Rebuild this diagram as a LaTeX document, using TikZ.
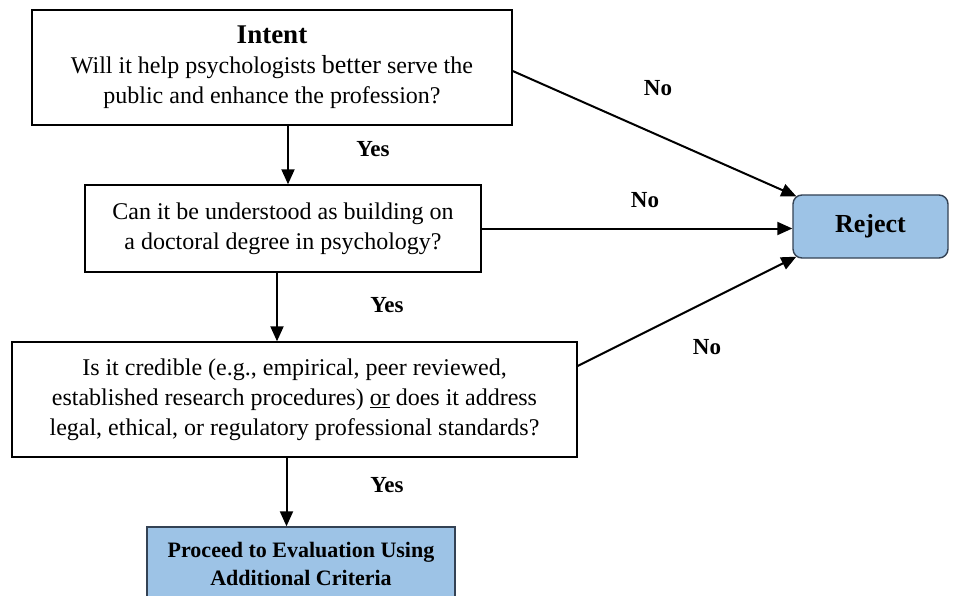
\documentclass[tikz,border=0pt]{standalone}
\usepackage{fontspec}
\setmainfont{Liberation Serif}
\usetikzlibrary{arrows.meta}
\definecolor{boxblue}{RGB}{157,195,230}
\definecolor{boxline}{RGB}{52,66,84}

\begin{document}
\begin{tikzpicture}[x=1pt, y=-1pt]
\tikzstyle{question} = [draw=black, line width=1.4pt, rectangle, align=center, inner sep=0pt, font=\fontsize{24}{30}\selectfont]
\tikzstyle{outcome} = [draw=boxline, fill=boxblue, line width=1.4pt, align=center, inner sep=0pt, font=\bfseries\fontsize{22}{28}\selectfont]
\tikzstyle{edge} = [draw=black, line width=2pt, -{Triangle[length=15pt,width=13pt]}]
\tikzstyle{answer} = [font=\bfseries\fontsize{23}{26}\selectfont]

\clip (0,0) rectangle (955,596);

\node[question, minimum width=480, minimum height=115] (intent) at (272,67.5)
  {{\bfseries\fontsize{27}{30}\selectfont Intent}\\
   Will it help psychologists {\fontsize{26}{30}\selectfont better} serve the\\
   public and enhance the profession?};
\node[question, minimum width=396, minimum height=87] (cando) at (283,228.5)
  {Can it be understood as building on\\ a doctoral degree in psychology?};
\node[question, minimum width=565, minimum height=115] (credible) at (294.5,399.5)
  {Is it credible (e.g., empirical, peer reviewed,\\
   established research procedures) \underline{or} does it address\\
   legal, ethical, or regulatory professional standards?};
\node[outcome, minimum width=308, minimum height=73] (proceed) at (301,563.5)
  {Proceed to Evaluation Using\\ Additional Criteria};
\node[outcome, rounded corners=9pt, minimum width=155, minimum height=63,
  font=\bfseries\fontsize{26}{30}\selectfont] (reject) at (870.5,226.5) {Reject};

% yes branch
\coordinate (y1) at ([xshift=16pt]intent.south);
\coordinate (y2) at ([xshift=-6pt]cando.south);
\coordinate (y3) at ([xshift=-8pt]credible.south);
\draw[edge] (y1) -- (y1 |- cando.north);
\draw[edge] (y2) -- (y2 |- credible.north);
\draw[edge] (y3) -- (y3 |- proceed.north);

% no branch
\draw[edge] ([yshift=-3.5pt]intent.east) -- ([xshift=4pt,yshift=-2pt]reject.north west);
\draw[edge] (cando.east) -- (cando.east -| reject.west);
\draw[edge] ([yshift=33.5pt]credible.east) -- ([xshift=4pt,yshift=2pt]reject.south west);

\node[answer] (yes1) at (373,149) {Yes};
\node[answer] (yes2) at (387,305) {Yes};
\node[answer] (yes3) at (387,485) {Yes};
\node[answer] (no1) at (658,88) {No};
\node[answer] (no2) at (645,200) {No};
\node[answer] (no3) at (707,347) {No};
\end{tikzpicture}
\end{document}
